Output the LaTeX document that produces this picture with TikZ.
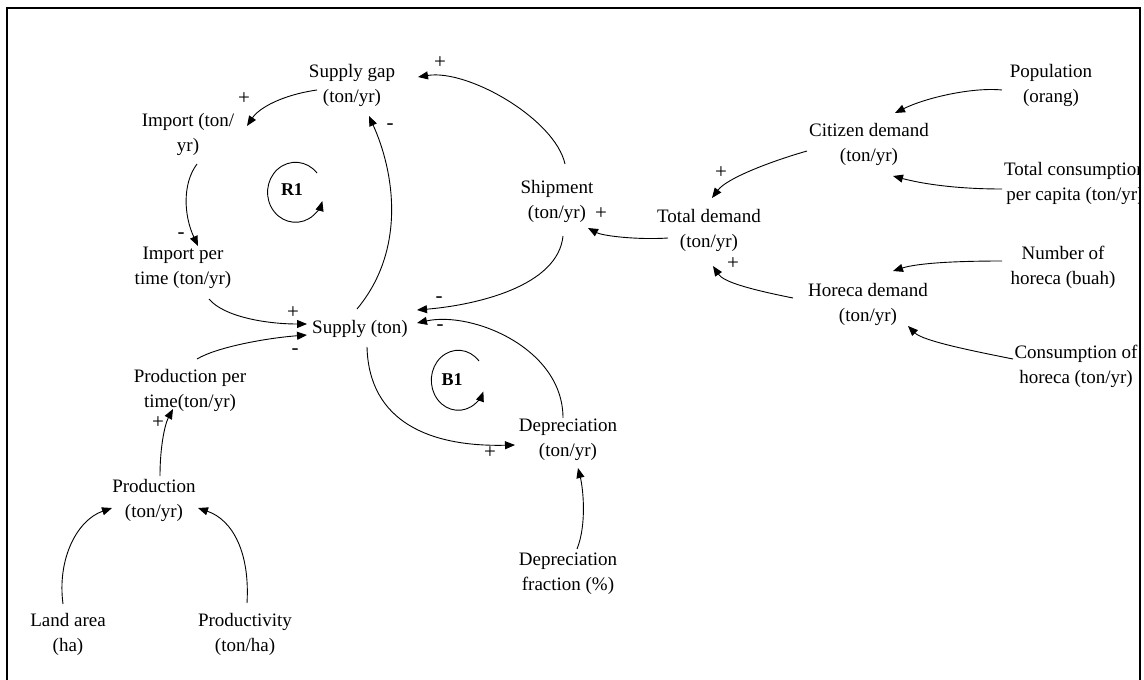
\documentclass[tikz,border=0pt]{standalone}
\usepackage{fontspec}
\setmainfont{Liberation Serif}
\usetikzlibrary{arrows.meta}

\begin{document}
\begin{tikzpicture}[
  x=1pt, y=-1pt,
  font=\fontsize{19}{25}\selectfont,
  var/.style={align=center, inner sep=0pt, yshift=-1pt},
  link/.style={-{Triangle[length=10pt,width=8pt]}, line width=0.9pt},
  sign/.style={inner sep=0pt, font=\fontsize{21}{21}\selectfont},
  loopname/.style={inner sep=0pt, font=\fontsize{18}{20}\selectfont\bfseries}
]
\useasboundingbox (0,0) rectangle (1144,680);
\draw[line width=2pt] (7,690) -- (7,8) -- (1140,8) -- (1140,690);

% supply side
\node[var] (gap) at (352,84) {Supply gap\\(ton/yr)};
\node[var] (imp) at (188,133) {Import (ton/\\yr)};
\node[var] (ipt) at (183,267) {Import per\\time (ton/yr)};
\node[var] (sup) at (360,328) {Supply (ton)};
\node[var] (ppt) at (190,389) {Production per\\time(ton/yr)};
\node[var] (prod) at (154,499) {Production\\(ton/yr)};
\node[var] (land) at (68,633) {Land area\\(ha)};
\node[var] (prodv) at (245,633) {Productivity\\(ton/ha)};
\node[var] (ship) at (557,200) {Shipment\\(ton/yr)};
\node[var] (dep) at (568,439) {Depreciation\\(ton/yr)};
\node[var] (depf) at (568,573) {Depreciation\\fraction (\%)};

% demand side
\node[var] (tdem) at (709,229) {Total demand\\(ton/yr)};
\node[var] (cdem) at (869,143) {Citizen demand\\(ton/yr)};
\node[var] (hdem) at (868,303) {Horeca demand\\(ton/yr)};
\node[var] (pop) at (1051,84) {Population\\(orang)};
\begin{scope}
  \clip (0,0) rectangle (1139,680);
  \node[var] (tcons) at (1075,182) {Total consumption\\per capita (ton/yr)};
\end{scope}
\node[var] (nhor) at (1063,266) {Number of\\horeca (buah)};
\node[var] (chor) at (1076,365) {Consumption of\\horeca (ton/yr)};

% loops
\node[loopname] (r1) at (292,190) {R1};
\node[loopname] (b1) at (452,380) {B1};
\draw[link] ([shift={(25,-17)}]r1.center)
  arc[start angle=-40, end angle=-343, x radius=28, y radius=30];
\draw[link] ([shift={(27,-19)}]b1.center)
  arc[start angle=-40, end angle=-338, x radius=27, y radius=30];

% links
\draw[link] ([shift={(-35,5)}]gap.center) .. controls +(-35,5) and +(12,-18) .. ([shift={(59,-8)}]imp.center);
\draw[link] ([shift={(9,30)}]imp.center) .. controls +(-15,20) and +(-14,-30) .. ([shift={(15,-22)}]ipt.center);
\draw[link] ([shift={(26,31)}]ipt.center) .. controls +(15,18) and +(-40,0) .. ([shift={(-53,-5)}]sup.center);
\draw[link] ([shift={(7,-31)}]ppt.center) .. controls +(20,-12) and +(-40,3) .. ([shift={(-53,6)}]sup.center);
\draw[link] ([shift={(-3,-20)}]sup.center) .. controls +(50,-60) and +(25,55) .. ([shift={(17,31)}]gap.center);
\draw[link] ([shift={(8,-37)}]ship.center) .. controls +(-10,-45) and +(50,-8) .. ([shift={(66,-8)}]gap.center);
\draw[link] ([shift={(6,35)}]ship.center) .. controls +(-5,50) and +(60,-5) .. ([shift={(57,-19)}]sup.center);
\draw[link] ([shift={(-5,-22)}]dep.center) .. controls +(0,-70) and +(55,-12) .. ([shift={(57,-6)}]sup.center);
\draw[link] ([shift={(7,18)}]sup.center) .. controls +(2,75) and +(-85,2) .. ([shift={(-53,5)}]dep.center);
\draw[link] ([shift={(9,-25)}]depf.center) .. controls +(10,-25) and +(5,20) .. ([shift={(10,28)}]dep.center);
\draw[link] ([shift={(-41,8)}]tdem.center) .. controls +(-30,2) and +(15,8) .. ([shift={(31,27)}]ship.center);
\draw[link] ([shift={(-62,7)}]cdem.center) .. controls +(-35,10) and +(15,-20) .. ([shift={(3,-32)}]tdem.center);
\draw[link] ([shift={(-75,-6)}]hdem.center) .. controls +(-50,-10) and +(10,15) .. ([shift={(4,36)}]tdem.center);
\draw[link] ([shift={(-49,5)}]pop.center) .. controls +(-30,-3) and +(30,-15) .. ([shift={(26,-31)}]cdem.center);
\draw[link] ([shift={(-73,6)}]tcons.center) .. controls +(-45,0) and +(30,8) .. ([shift={(24,32)}]cdem.center);
\draw[link] ([shift={(-61,-6)}]nhor.center) .. controls +(-45,0) and +(25,-8) .. ([shift={(25,-33)}]hdem.center);
\draw[link] ([shift={(-63,-7)}]chor.center) .. controls +(-40,-8) and +(15,15) .. ([shift={(40,22)}]hdem.center);
\draw[link] ([shift={(6,-24)}]prod.center) .. controls +(0,-30) and +(-8,15) .. ([shift={(-17,19)}]ppt.center);
\draw[link] ([shift={(-5,-30)}]land.center) .. controls +(-6,-45) and +(-35,12) .. ([shift={(-42,8)}]prod.center);
\draw[link] ([shift={(2,-31)}]prodv.center) .. controls +(3,-50) and +(35,12) .. ([shift={(44,8)}]prod.center);

% polarities
\node[sign] (s1) at (244,99) {+};
\node[sign] (s2) at (181,236) {-};
\node[sign] (s3) at (293,313) {+};
\node[sign] (s4) at (295,352) {-};
\node[sign] (s5) at (390,127) {-};
\node[sign] (s6) at (440,63) {+};
\node[sign] (s7) at (439,300) {-};
\node[sign] (s8) at (440,328) {-};
\node[sign] (s9) at (490,453) {+};
\node[sign] (s10) at (601,214) {+};
\node[sign] (s11) at (721,173) {+};
\node[sign] (s12) at (733,264) {+};
\node[sign] (s13) at (158,423) {+};
\end{tikzpicture}
\end{document}
